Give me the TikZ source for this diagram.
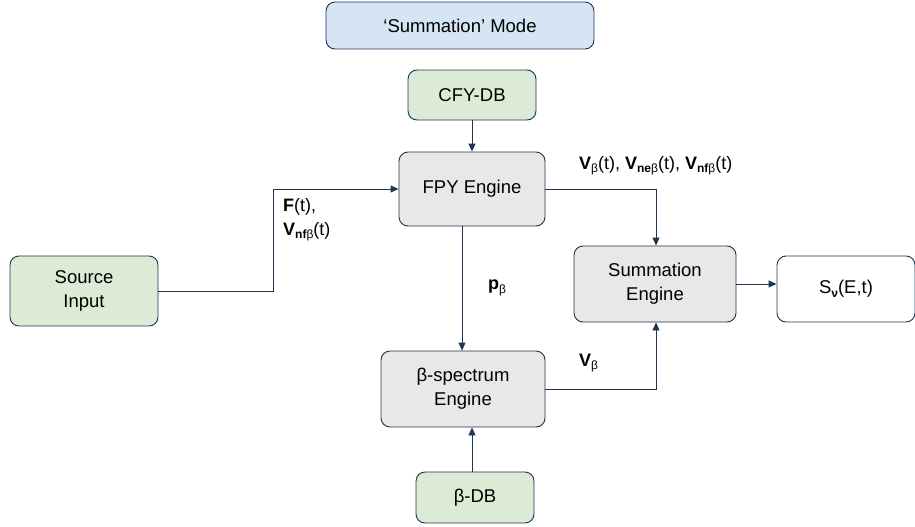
\documentclass[tikz,border=0pt]{standalone}
\usepackage{fontspec}
\setmainfont{Liberation Sans}
\usetikzlibrary{arrows.meta}
\definecolor{edgeblue}{HTML}{1F3550}
\definecolor{modefill}{HTML}{D6E5F4}
\definecolor{dbfill}{HTML}{DCEBD5}
\definecolor{engfill}{HTML}{E8E8E8}
\newcommand{\lowsub}[1]{\raisebox{-0.35ex}{\fontsize{12}{13}\selectfont #1}}
\tikzset{
  blockbox/.style={draw=edgeblue, line width=0.9pt, rounded corners=9pt, align=center,
    font=\fontsize{18.5}{22}\selectfont, inner sep=0pt},
  flowline/.style={draw=edgeblue, line width=0.9pt, -{Triangle[length=8pt,width=7pt]}},
  flowlabel/.style={font=\fontsize{18}{21}\selectfont, align=left, inner sep=0pt}
}
\begin{document}
\begin{tikzpicture}[x=1pt,y=-1pt]
  \useasboundingbox (0,0) rectangle (915,527);
  % boxes
  \node[blockbox, fill=modefill, minimum width=268pt, minimum height=47pt] (mode) at (460,25.5) {`Summation' Mode};
  \node[blockbox, fill=dbfill, minimum width=128pt, minimum height=50pt] (cfydb) at (472,95) {CFY-DB};
  \node[blockbox, fill=engfill, minimum width=146pt, minimum height=74pt] (fpy) at (472,189) {FPY Engine};
  \node[blockbox, fill=dbfill, minimum width=148pt, minimum height=70pt] (source) at (84,291) {Source\\[2pt]Input};
  \node[blockbox, fill=engfill, minimum width=162pt, minimum height=76pt] (sumeng) at (655,284) {Summation\\[2pt]Engine};
  \node[blockbox, fill=white, minimum width=138pt, minimum height=66pt] (spec) at (846,289) {S\lowsub{\textbf{ν}}(E,t)};
  \node[blockbox, fill=engfill, minimum width=164pt, minimum height=76pt] (betaeng) at (463,389) {β-spectrum\\[2pt]Engine};
  \node[blockbox, fill=dbfill, minimum width=118pt, minimum height=51pt] (betadb) at (475,497.5) {β-DB};
  % connectors
  \draw[flowline] (cfydb.south) -- (fpy.north);
  \draw[flowline] (source.east) -- (273,291) |- (fpy.west);
  \draw[flowline] (fpy.south -| 462,0) -- (betaeng.north -| 462,0);
  \draw[flowline] (fpy.east) -| (656,0 |- sumeng.north);
  \draw[flowline] (betaeng.east) -| (656,0 |- sumeng.south);
  \draw[flowline] (betadb.north -| 472,0) -- (betaeng.south -| 472,0);
  \draw[flowline] (sumeng.east) -- (sumeng.east -| spec.west);
  % labels
  \node[flowlabel, anchor=west] (lbinput) at (283,220) {\textbf{F}(t),\\[3pt]\textbf{V}\lowsub{\textbf{nf}β}(t)};
  \node[flowlabel, anchor=west] (lbpbeta) at (488,288) {\textbf{p}\lowsub{β}};
  \node[flowlabel, anchor=west] (lbfpy) at (579,166) {\textbf{V}\lowsub{β}(t), \textbf{V}\lowsub{\textbf{ne}β}(t), \textbf{V}\lowsub{\textbf{nf}β}(t)};
  \node[flowlabel, anchor=west] (lbvbeta) at (579,363) {\textbf{V}\lowsub{β}};
\end{tikzpicture}
\end{document}
